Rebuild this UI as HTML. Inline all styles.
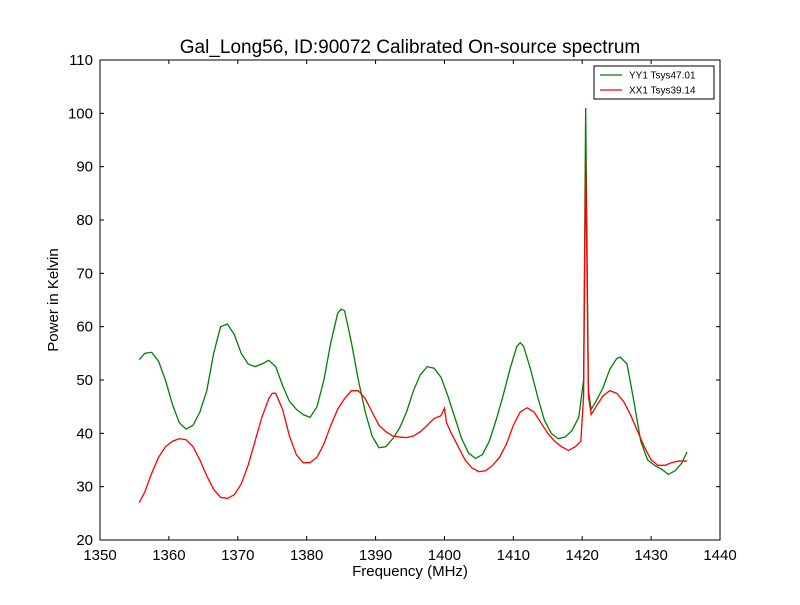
<!DOCTYPE html>
<html><head><meta charset="utf-8"><style>
body{margin:0;background:#fff;width:800px;height:600px;overflow:hidden}
svg{font-family:"Liberation Sans",sans-serif}
</style></head><body>
<svg id="chart" width="800" height="600">
<rect width="800" height="600" fill="#fff"/>
<text x="410" y="53" font-size="19" text-anchor="middle">Gal_Long56, ID:90072 Calibrated On-source spectrum</text>
<g id="plot"></g>
<text x="410" y="576" font-size="15" text-anchor="middle">Frequency (MHz)</text>
<text x="58" y="300" font-size="15" text-anchor="middle" transform="rotate(-90 58 300)">Power in Kelvin</text>
</svg>
<script>
const xTicks=[1350,1360,1370,1380,1390,1400,1410,1420,1430,1440];
const yTicks=[20,30,40,50,60,70,80,90,100,110];
const yyFreq=[1355.7,1356.5,1357.5,1358.5,1359.5,1360.5,1361.5,1362.5,1363.5,1364.5,1365.5,1366.5,1367.5,1368.5,1369.5,1370.5,1371.5,1372.5,1373.5,1374.5,1375.5,1376.5,1377.5,1378.5,1379.5,1380.5,1381.5,1382.5,1383.5,1384.5,1385,1385.5,1386.5,1387.5,1388.5,1389.5,1390.5,1391.5,1392.5,1393.5,1394.5,1395.5,1396.5,1397.5,1398.5,1399.5,1400.5,1401.5,1402.5,1403.5,1404.5,1405.5,1406.5,1407.5,1408.5,1409.5,1410.5,1411,1411.5,1412.5,1413.5,1414.5,1415.5,1416.5,1417.5,1418.5,1419.5,1420.2,1420.5,1420.9,1421.3,1422,1423,1424,1425,1425.5,1426.5,1427.5,1428.5,1429.5,1430.5,1431.5,1432.5,1433.5,1434.5,1435.2];
const yyPower=[53.8,55,55.2,53.5,50,45.5,42,40.8,41.5,44,48,55,60,60.5,58.5,55,53,52.5,53,53.7,52.5,49,46,44.5,43.5,43,45,50,57,62.5,63.3,63,57,50,44,39.5,37.3,37.5,39,41,44,48,51,52.5,52.2,50.5,47,43,39,36.3,35.3,36,38.5,42.5,47,52,56.3,57,56.3,52,47,42.5,40,39,39.3,40.5,43,50,101,48,44.5,46,48.5,52,54,54.3,53,46,38.5,35,34,33.3,32.3,33,34.5,36.5];
const xxFreq=[1355.7,1356.5,1357.5,1358.5,1359.5,1360.5,1361.5,1362.5,1363.5,1364.5,1365.5,1366.5,1367.5,1368.5,1369.5,1370.5,1371.5,1372.5,1373.5,1374.5,1375,1375.5,1376.5,1377.5,1378.5,1379.5,1380.5,1381.5,1382.5,1383.5,1384.5,1385.5,1386.5,1387.5,1388.5,1389.5,1390.5,1391.5,1392.5,1393.5,1394.5,1395.5,1396.5,1397.5,1398.5,1399.5,1400,1400.3,1401,1402,1403,1404,1405,1406,1407,1408,1409,1410,1411,1412,1413,1414,1415,1416,1417,1418,1419,1419.8,1420.2,1420.5,1420.9,1421.3,1422,1423,1424,1425,1426,1427,1428,1429,1430,1431,1432,1433,1434,1435.2];
const xxPower=[27,29,32.5,35.5,37.5,38.5,39,38.8,37.5,35,32,29.5,28,27.8,28.5,30.5,34,38.5,43,46.5,47.5,47.5,44.5,39.5,36,34.5,34.5,35.5,38,41.5,44.5,46.5,48,48,46.5,44,41.5,40.3,39.5,39.3,39.2,39.5,40.3,41.5,42.8,43.3,44.7,42,40,37.5,35,33.5,32.8,33,34,35.5,38,41.5,44,44.8,44,42,40,38.5,37.5,36.8,37.5,38.5,47,91.5,47,43.5,45,47,48,47.5,46,43.5,40.5,37.5,35,34,34,34.5,34.8,34.8];

const L=100,R=720,T=60,B=540;
const sx=v=>L+(v-1350)/(1440-1350)*(R-L);
const sy=v=>B-(v-20)/(110-20)*(B-T);
const NS="http://www.w3.org/2000/svg";
const g=document.getElementById('plot');
function mk(tag,at){const e=document.createElementNS(NS,tag);for(const k in at)e.setAttribute(k,at[k]);g.appendChild(e);return e;}

function line(fr,pw,color,name){
  const p=mk('polyline',{points:fr.map((f,i)=>sx(f)+','+sy(pw[i])).join(' '),fill:'none',stroke:color,'stroke-width':1.3});
  
  
}
line(yyFreq,yyPower,'#008000','yy1-series');
line(xxFreq,xxPower,'#ff0000','xx1-series');

const frame=mk('rect',{x:L,y:T,width:R-L,height:B-T,fill:'none',stroke:'#000','stroke-width':1});



xTicks.forEach(v=>{
  const x=sx(v);
  mk('line',{x1:x,x2:x,y1:B,y2:B-4,stroke:'#000'});
  mk('line',{x1:x,x2:x,y1:T,y2:T+4,stroke:'#000'});
  const t=mk('text',{x:x,y:B+20,'font-size':15,'text-anchor':'middle'});
  t.textContent=v;
  
  
});
yTicks.forEach(v=>{
  const y=sy(v);
  mk('line',{x1:L,x2:L+4,y1:y,y2:y,stroke:'#000'});
  mk('line',{x1:R,x2:R-4,y1:y,y2:y,stroke:'#000'});
  const t=mk('text',{x:L-7,y:y+5,'font-size':15,'text-anchor':'end'});
  t.textContent=v;
  
  
});

const lg=mk('rect',{x:594,y:66,width:120,height:33,fill:'#fff',stroke:'#000','stroke-width':1});


[['YY1 Tsys47.01','#008000',75],['XX1 Tsys39.14','#ff0000',90]].forEach(([lab,c,y])=>{
  mk('line',{x1:600,x2:622,y1:y,y2:y,stroke:c,'stroke-width':1.3});
  const t=mk('text',{x:629,y:y+3.5,'font-size':10});
  t.textContent=lab;
  
  
});
</script>
</body></html>
